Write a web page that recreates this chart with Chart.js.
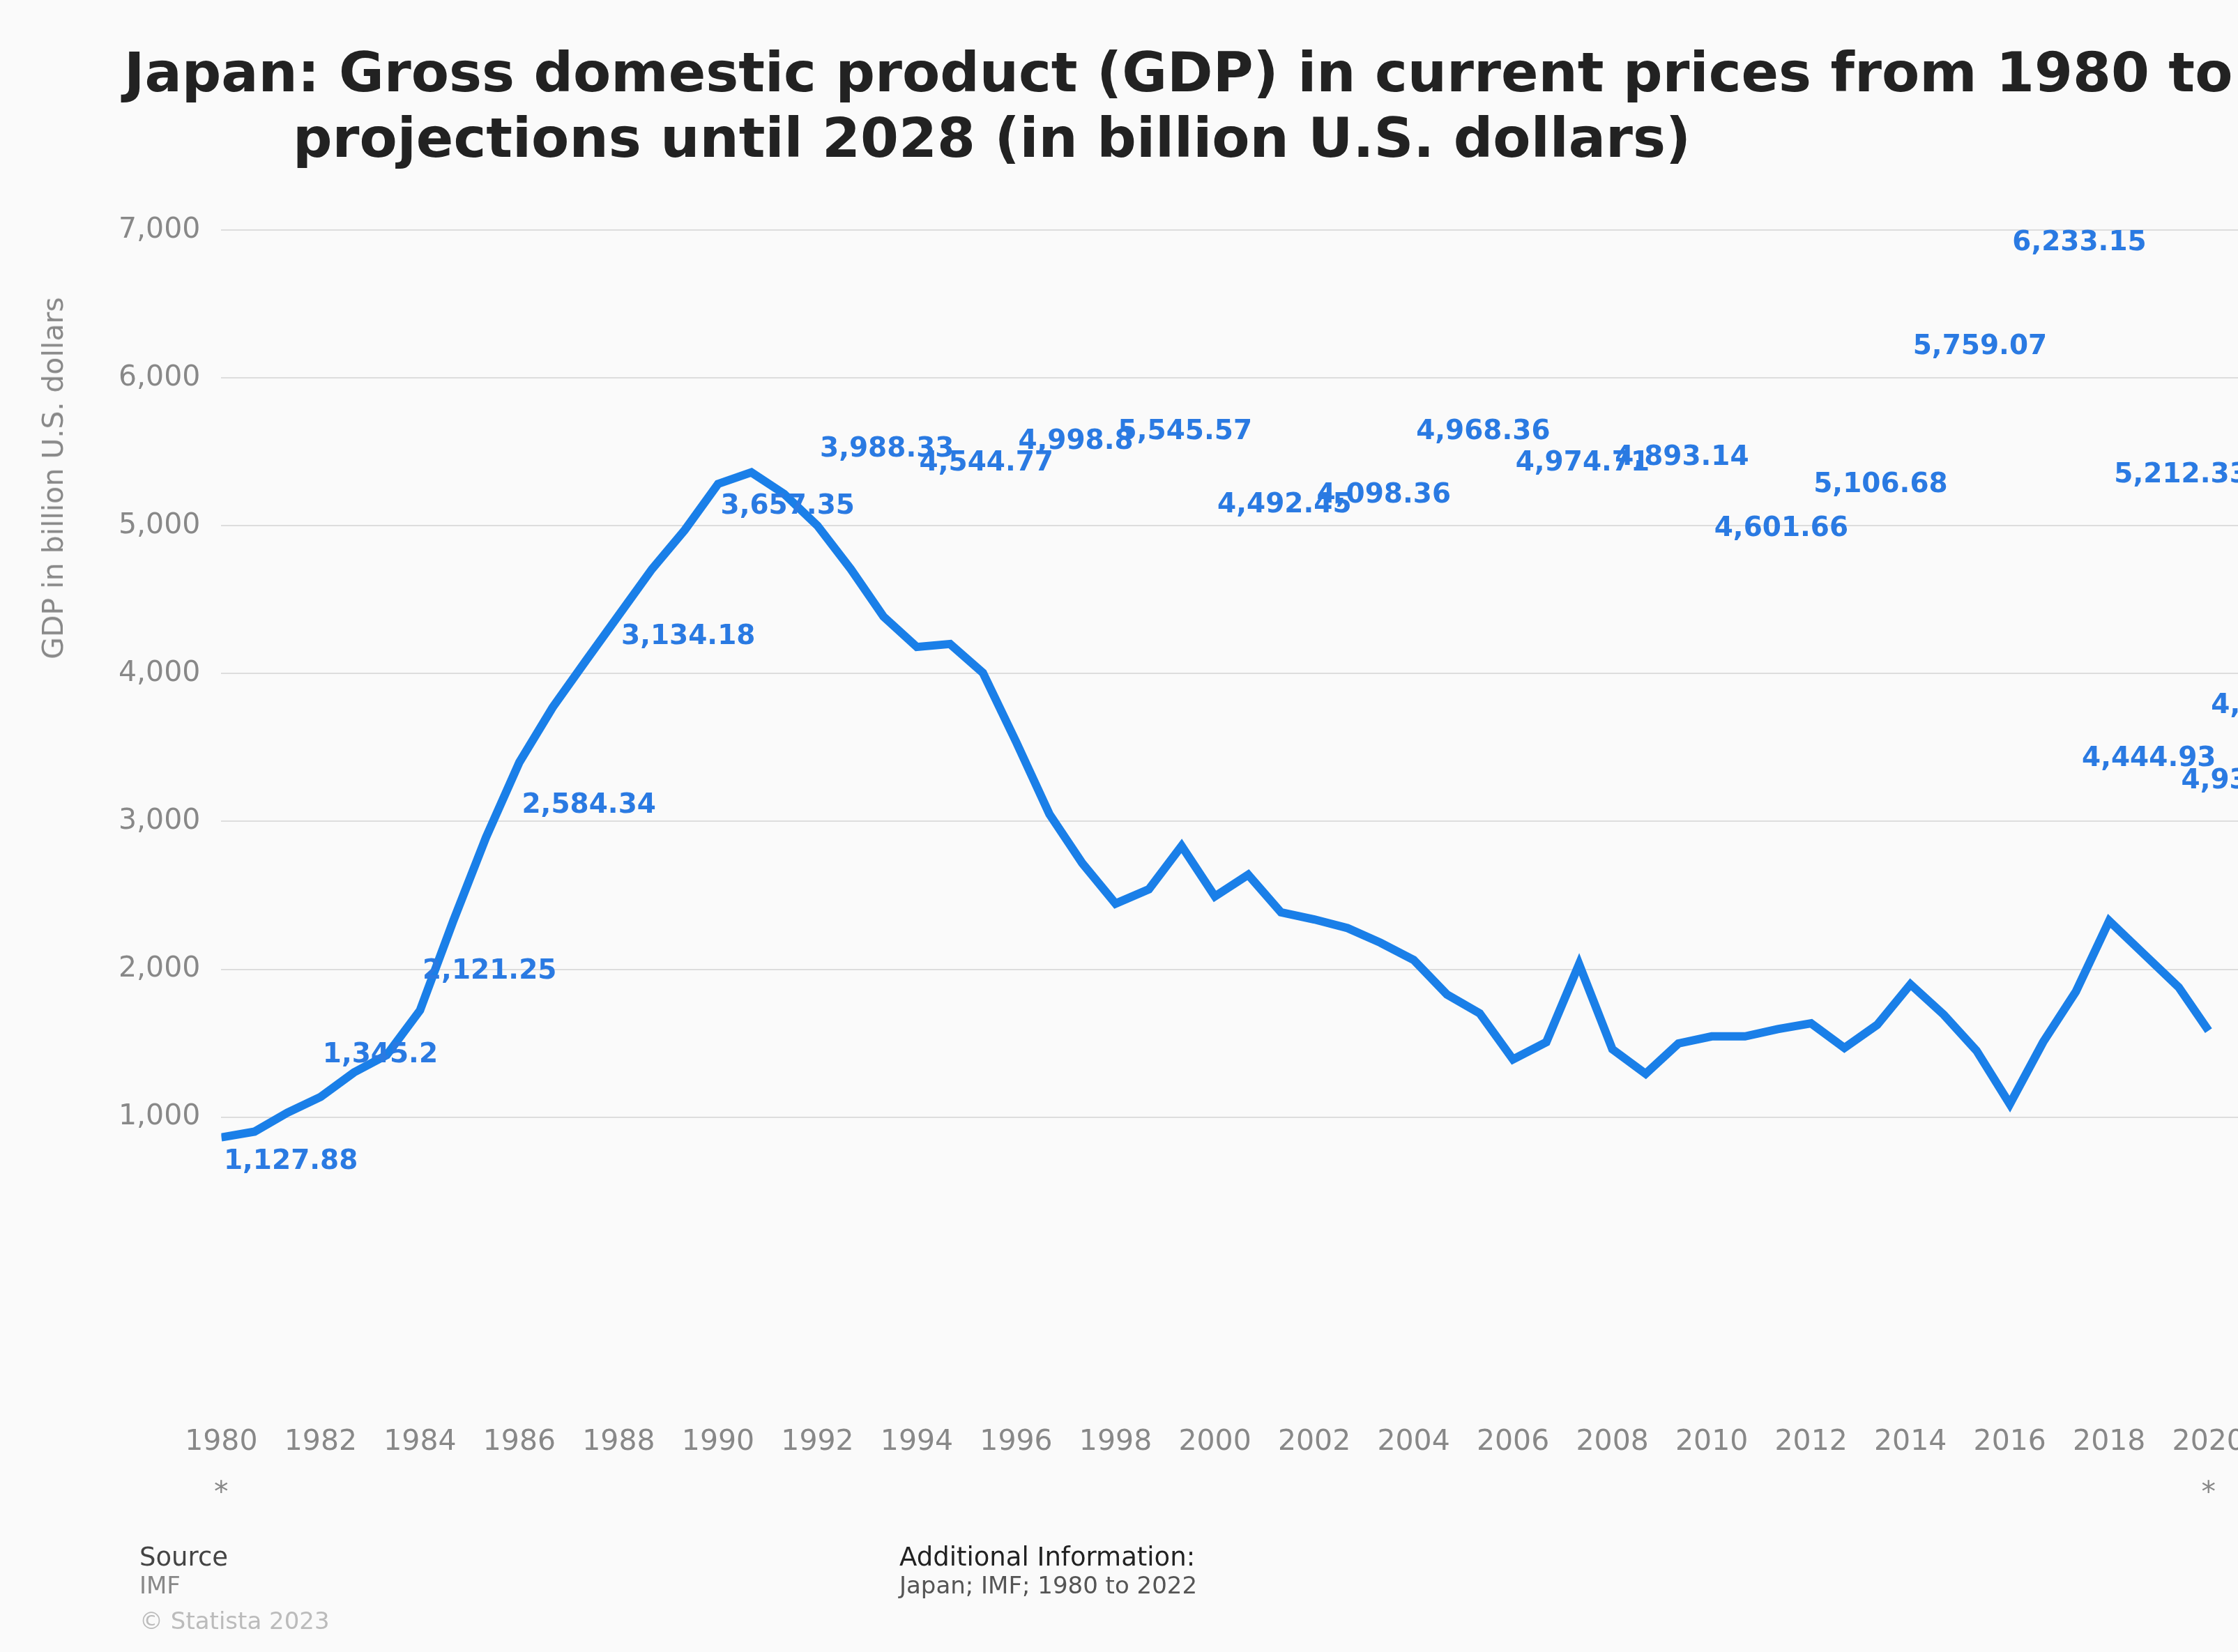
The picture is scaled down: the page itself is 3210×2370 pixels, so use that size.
<!DOCTYPE html>
<html>
<head>
<meta charset="utf-8">
<script src="https://cdn.jsdelivr.net/npm/chart.js@4"></script>
<style>
  html, body { margin: 0; padding: 0; background: #fafafa; overflow: hidden; width: 3210px; height: 2370px; }
  body { position: relative; font-family: "DejaVu Sans", sans-serif; }
  #gdpChart { position: absolute; left: 0; top: 0; }
  .title { position: absolute; font-weight: bold; font-size: 79px; color: #222; white-space: nowrap; }
  .foot { position: absolute; font-size: 37px; white-space: nowrap; }
  .ytitle { position: absolute; left: 76px; top: 686px; font-size: 41px; color: #888; white-space: nowrap;
            transform: translate(-50%, -50%) rotate(-90deg); }
</style>
</head>
<body>
<canvas id="gdpChart" width="3830" height="2370"></canvas>
<div class="title" style="left:178px; top:58px;">Japan: Gross domestic product (GDP) in current prices from 1980 to 2022, with</div>
<div class="title" style="left:420px; top:152px;">projections until 2028 (in billion U.S. dollars)</div>
<div class="ytitle">GDP in billion U.S. dollars</div>
<div class="foot" style="left:200px; top:2212px; color:#444;">Source</div>
<div class="foot" style="left:200px; top:2254px; color:#888; font-size:34px;">IMF</div>
<div class="foot" style="left:200px; top:2305px; color:#bbb; font-size:34px;">© Statista 2023</div>
<div class="foot" style="left:1290px; top:2212px; color:#222;">Additional Information:</div>
<div class="foot" style="left:1290px; top:2254px; color:#555; font-size:34px;">Japan; IMF; 1980 to 2022</div>
<script>
// line points (x in years, y in billion U.S. dollars)
const lineYears = [1980, 1980.67, 1981.33, 1982, 1982.67, 1983.33, 1984, 1984.67, 1985.33, 1986,
  1986.67, 1987.33, 1988, 1988.67, 1989.33, 1990, 1990.67, 1991.33, 1992, 1992.67,
  1993.33, 1994, 1994.67, 1995.33, 1996, 1996.67, 1997.33, 1998, 1998.67, 1999.33,
  2000, 2000.67, 2001.33, 2002, 2002.67, 2003.33, 2004, 2004.67, 2005.33, 2006,
  2006.67, 2007.33, 2008, 2008.67, 2009.33, 2010, 2010.67, 2011.33, 2012, 2012.67,
  2013.33, 2014, 2014.67, 2015.33, 2016, 2016.67, 2017.33, 2018, 2018.67, 2019.4, 2020];
const lineValues = [863, 902, 1030, 1137, 1302, 1420, 1722, 2327, 2893, 3400,
  3771, 4083, 4395, 4707, 4971, 5283, 5361, 5215, 5000, 4707,
  4385, 4180, 4200, 4005, 3537, 3049, 2717, 2444, 2541, 2834,
  2493, 2639, 2385, 2337, 2278, 2180, 2063, 1829, 1702, 1390,
  1507, 2034, 1459, 1293, 1498, 1546, 1546, 1595, 1634, 1468,
  1624, 1898, 1693, 1449, 1088, 1507, 1849, 2327, 2112, 1878, 1585];

// value labels and where they sit
const labelTexts = ["1,127.88", "1,345.2", "2,121.25", "2,584.34", "3,134.18", "3,657.35", "3,988.33",
  "4,544.77", "4,998.8", "5,545.57", "4,492.45", "4,098.36", "4,968.36", "4,974.71", "4,893.14",
  "4,601.66", "5,106.68", "5,759.07", "6,233.15", "4,444.93", "5,212.33", "4,937.42", "4,231.14"];
const labelYears = [1981.4, 1983.2, 1985.4, 1987.4, 1989.4, 1991.4, 1993.4, 1995.4, 1997.2, 1999.4,
  2001.4, 2003.4, 2005.4, 2007.4, 2009.4, 2011.4, 2013.4, 2015.4, 2017.4, 2018.8, 2019.45, 2020.8, 2021.4];
const labelHeights = [698, 1420, 1985, 3107, 4249, 5127, 5517, 5420, 5566, 5634,
  5137, 5205, 5634, 5420, 5459, 4980, 5273, 6210, 6912, 3420, 5341, 3273, 3780];

const yTicks = [1000, 2000, 3000, 4000, 5000, 6000, 7000];
const starYears = [1980, 2020];

const valueLabels = {
  id: "valueLabels",
  afterDatasetsDraw(chart) {
    const { ctx, scales: { x, y } } = chart;
    ctx.save();
    ctx.font = "bold 39px 'DejaVu Sans'";
    ctx.fillStyle = "#2a7ae2";
    ctx.textAlign = "center";
    ctx.textBaseline = "middle";
    labelTexts.forEach((t, i) => {
      ctx.fillText(t, x.getPixelForValue(labelYears[i]), y.getPixelForValue(labelHeights[i]));
    });
    ctx.restore();
  }
};

new Chart(document.getElementById("gdpChart"), {
  type: "line",
  data: {
    datasets: [{
      data: lineYears.map((yr, i) => ({ x: yr, y: lineValues[i] })),
      borderColor: "#1a7fe8",
      borderWidth: 12,
      pointRadius: 0,
      fill: false,
      tension: 0,
    }]
  },
  options: {
    responsive: false,
    animation: false,
    devicePixelRatio: 1,
    layout: { padding: { left: 140, top: 330, bottom: 150, right: 0 } },
    scales: {
      x: {
        type: "linear",
        min: 1980,
        max: 2028,
        grid: { display: false },
        border: { display: false },
        ticks: {
          stepSize: 2,
          color: "#888",
          font: { size: 41, family: "DejaVu Sans", lineHeight: 1.8 },
          maxRotation: 0,
          padding: 40,
          callback: (v) => starYears.includes(v) ? [String(v), "*"] : String(v),
        }
      },
      y: {
        min: -800,
        max: 7000,
        afterBuildTicks: (axis) => { axis.ticks = yTicks.map(v => ({ value: v })); },
        grid: { color: "#dddddd", lineWidth: 2, drawTicks: false },
        border: { display: false },
        ticks: {
          color: "#888",
          padding: 30,
          font: { size: 41, family: "DejaVu Sans" },
          callback: (v) => v.toLocaleString("en-US"),
        }
      }
    },
    plugins: {
      legend: { display: false },
      tooltip: { enabled: false },
    }
  },
  plugins: [valueLabels]
});
</script>
</body>
</html>
